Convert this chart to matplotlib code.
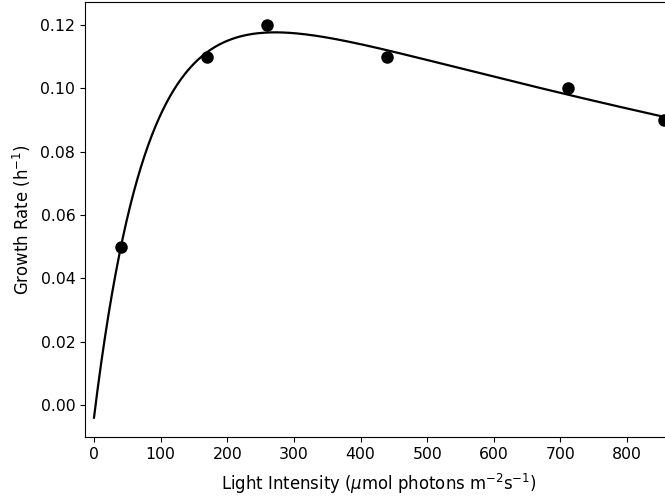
import numpy as np
import matplotlib
matplotlib.use("Agg")
import matplotlib.pyplot as plt

# Measured data
light = [40, 170, 260, 440, 712, 855]
growth = [0.05, 0.11, 0.12, 0.11, 0.10, 0.09]

# Fitted photoinhibition model (Platt-type) parameters
Ps = 0.14505
alpha = 0.0017147
beta = 7.1696e-05
resp = -0.004


def model(I):
    return Ps * (1 - np.exp(-alpha * I / Ps)) * np.exp(-beta * I / Ps) + resp


I_fit = np.linspace(0, 900, 500)

fig = plt.figure(figsize=(6.65, 5.0), dpi=100)
ax = fig.add_axes([85 / 665, 63 / 500, 588 / 665, 435 / 500])
ax.plot(I_fit, model(I_fit), color="black", lw=1.6)
ax.plot(light, growth, "o", color="black", ms=8)
ax.set_xlim(-13.5, 869)
ax.set_ylim(-0.0101, 0.1273)
ax.set_xticks(np.arange(0, 900, 100))
ax.set_yticks(np.arange(0, 0.13, 0.02))
ax.set_xlabel(r"Light Intensity ($\mu$mol photons m$^{-2}$s$^{-1}$)", fontsize=11.9, labelpad=7)
ax.set_ylabel(r"Growth Rate (h$^{-1}$)", fontsize=11.9, labelpad=5)
ax.tick_params(labelsize=11.3)
fig.savefig("out.png", dpi=100)
